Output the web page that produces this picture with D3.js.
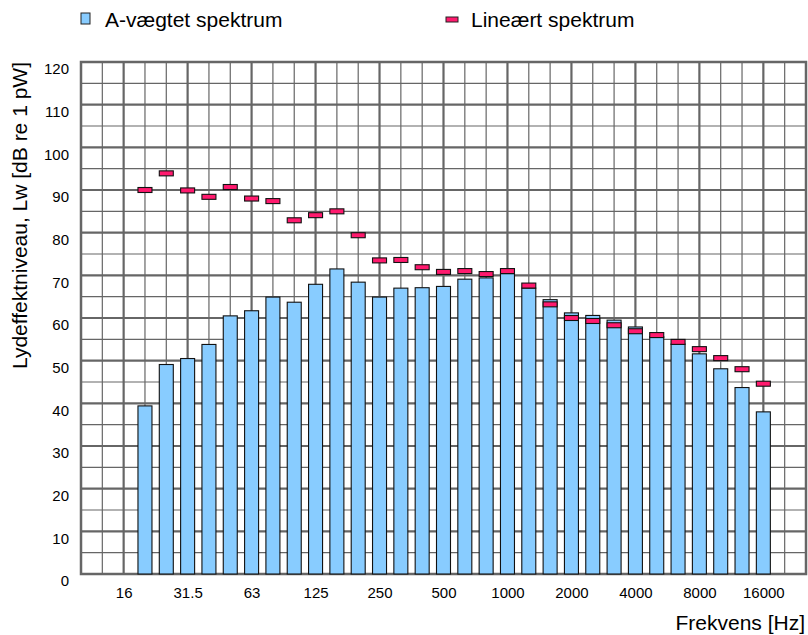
<!DOCTYPE html>
<html>
<head>
<meta charset="utf-8">
<script src="https://cdn.jsdelivr.net/npm/d3@7/dist/d3.min.js"></script>
<style>
  html, body { margin: 0; padding: 0; background: #fff; }
  svg text { font-family: "Liberation Sans", Arial, sans-serif; fill: #000; }
</style>
</head>
<body>
<svg id="chart" width="808" height="635"></svg>
<script>
// Axis bands (1/3 octave centre frequencies spanned by the x axis)
const axisBands = ["10","12.5","16","20","25","31.5","40","50","63","80","100","125","160","200","250","315","400","500","630","800","1000","1250","1600","2000","2500","3150","4000","5000","6300","8000","10000","12500","16000","20000","25000"];
// Bands carrying data
const bands = ["20","25","31.5","40","50","63","80","100","125","160","200","250","315","400","500","630","800","1000","1250","1600","2000","2500","3150","4000","5000","6300","8000","10000","12500","16000"];
// A-weighted spectrum (bars), dB re 1 pW
const aWeighted = [39.4,49.1,50.5,53.8,60.5,61.7,64.9,63.7,67.9,71.5,68.4,64.9,67.0,67.1,67.4,69.1,69.4,70.4,67.0,64.3,61.2,60.6,59.5,57.9,55.6,53.9,51.6,48.1,43.7,38.0];
// Linear spectrum (markers), dB re 1 pW
const linear = [90.0,93.9,89.9,88.4,90.7,88.0,87.4,82.9,84.1,85.0,79.4,73.5,73.6,71.9,70.8,71.0,70.3,71.0,67.6,63.2,60.0,59.3,58.3,56.9,56.0,54.4,52.7,50.6,48.0,44.6];
// Labelled (octave) ticks
const xTickLabels = ["16","31.5","63","125","250","500","1000","2000","4000","8000","16000"];
const yTicks = [0,10,20,30,40,50,60,70,80,90,100,110,120];
const yMinorTicks = [5,15,25,35,45,55,65,75,85,95,105,115];

const svg = d3.select("#chart");
const L = 81, R = 806, T = 62, B = 574;

const x = d3.scalePoint().domain(axisBands).range([L, R]);
const y = d3.scaleLinear().domain([0, 120]).range([B, T]);

const gridColor = "#666";

// minor grid
const g = svg.append("g");
g.selectAll(".vmin").data(axisBands.filter(b => !xTickLabels.includes(b))).enter()
  .append("line").attr("x1", d => x(d)).attr("x2", d => x(d)).attr("y1", T).attr("y2", B)
  .attr("stroke", gridColor).attr("stroke-width", 1.2);
g.selectAll(".hmin").data(yMinorTicks).enter()
  .append("line").attr("x1", L).attr("x2", R).attr("y1", d => y(d)).attr("y2", d => y(d))
  .attr("stroke", gridColor).attr("stroke-width", 1.2);
// major grid
g.selectAll(".vmaj").data(xTickLabels).enter()
  .append("line").attr("x1", d => x(d)).attr("x2", d => x(d)).attr("y1", T).attr("y2", B)
  .attr("stroke", gridColor).attr("stroke-width", 2.2);
g.selectAll(".hmaj").data(yTicks).enter()
  .append("line").attr("x1", L).attr("x2", R).attr("y1", d => y(d)).attr("y2", d => y(d))
  .attr("stroke", gridColor).attr("stroke-width", 2.2);
// frame
svg.append("rect").attr("x", L).attr("y", T).attr("width", R - L).attr("height", B - T)
  .attr("fill", "none").attr("stroke", gridColor).attr("stroke-width", 2.5);

// bars
const bw = 14;
svg.append("g").selectAll("rect").data(bands).enter().append("rect")
  .attr("x", d => x(d) - bw / 2)
  .attr("y", (d, i) => y(aWeighted[i]))
  .attr("width", bw)
  .attr("height", (d, i) => y(0) - y(aWeighted[i]))
  .attr("fill", "#88ccff").attr("stroke", "#111").attr("stroke-width", 1.1);

// linear markers
const mw = 14, mh = 5;
svg.append("g").selectAll("rect").data(bands).enter().append("rect")
  .attr("x", d => x(d) - mw / 2)
  .attr("y", (d, i) => y(linear[i]) - mh / 2)
  .attr("width", mw).attr("height", mh)
  .attr("fill", "#ff1a6e").attr("stroke", "#111").attr("stroke-width", 1.1);

// y axis labels
const yAxis = d3.axisLeft(y).tickValues(yTicks).tickSize(0).tickPadding(0);
const ya = svg.append("g").attr("transform", `translate(${L - 12},7)`).call(yAxis);
ya.select(".domain").remove();
ya.selectAll("text").style("font-size", "15px").style("font-family", "Liberation Sans, Arial, sans-serif");

// x axis labels
const xAxis = d3.axisBottom(x).tickValues(xTickLabels).tickSize(0).tickPadding(0);
const xa = svg.append("g").attr("transform", `translate(0,${B + 13})`).call(xAxis);
xa.select(".domain").remove();
xa.selectAll("text").style("font-size", "15px").style("font-family", "Liberation Sans, Arial, sans-serif");

// axis titles
svg.append("text").attr("x", 805).attr("y", 630).attr("text-anchor", "end")
  .style("font-size", "21px").text("Frekvens [Hz]");
svg.append("text").attr("transform", "translate(27,62) rotate(-90)").attr("text-anchor", "end")
  .style("font-size", "21px").text("Lydeffektniveau, Lw [dB re 1 pW]");

// legend
svg.append("rect").attr("x", 81).attr("y", 13).attr("width", 9).attr("height", 11)
  .attr("fill", "#88ccff").attr("stroke", "#222").attr("stroke-width", 1);
svg.append("text").attr("x", 105).attr("y", 27).style("font-size", "21px").text("A-vægtet spektrum");
svg.append("rect").attr("x", 446).attr("y", 17).attr("width", 12).attr("height", 5)
  .attr("fill", "#ff1a6e").attr("stroke", "#222").attr("stroke-width", 1);
svg.append("text").attr("x", 471).attr("y", 27).style("font-size", "21px").text("Lineært spektrum");
</script>
</body>
</html>
